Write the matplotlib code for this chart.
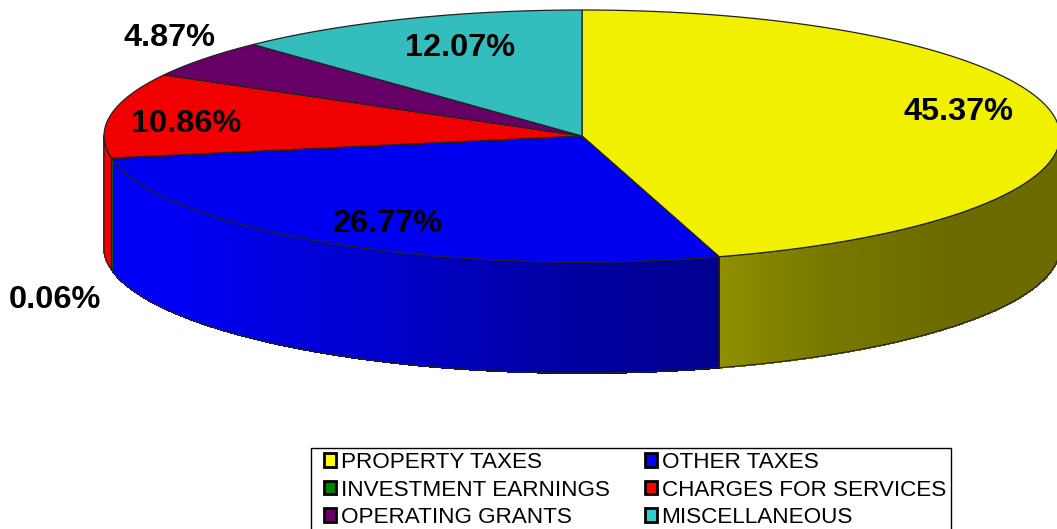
import numpy as np
import matplotlib
matplotlib.use('Agg')
import matplotlib.pyplot as plt
from matplotlib.collections import PolyCollection
from matplotlib.patches import Polygon, Patch, Rectangle

categories = ['PROPERTY TAXES', 'OTHER TAXES', 'INVESTMENT EARNINGS',
              'CHARGES FOR SERVICES', 'OPERATING GRANTS', 'MISCELLANEOUS']
values = [45.37, 26.77, 0.06, 10.86, 4.87, 12.07]
labels = ['45.37%', '26.77%', '0.06%', '10.86%', '4.87%', '12.07%']
top_colors = ['#F0F000', '#0000F0', '#006600', '#F00000', '#660066', '#33BDBD']
legend_colors = ['#FFFF00', '#0000FF', '#008000', '#FF0000', '#660066', '#33CCCC']
label_pos = [(959, 112), (388, 224), (55, 300), (186, 124), (170, 38), (460, 48)]

# pie geometry in pixels
cx, cy = 582, 136
rx, ry = 478, 126
depth = 111

plt.rcParams['font.family'] = ['Liberation Sans', 'DejaVu Sans']
fig = plt.figure(figsize=(10.57, 5.29), dpi=100)
ax = fig.add_axes([0, 0, 1, 1])
ax.set_xlim(0, 1057)
ax.set_ylim(529, 0)
ax.axis('off')


def ell(t, dy=0):
    # t is degrees clockwise from the top of the ellipse
    r = np.radians(t)
    return cx + rx * np.sin(r), cy - ry * np.cos(r) + dy


def shade(t):
    return np.interp(t, [90, 130, 150, 163, 180, 205, 235, 270],
                     [0.42, 0.42, 0.47, 0.56, 0.62, 0.8, 0.95, 0.97])


edges = np.cumsum([0] + values) * 3.6

# sides first, only the front half can be seen
for i in range(len(values)):
    a, b = max(edges[i], 90), min(edges[i + 1], 270)
    if b <= a:
        continue
    ts = np.linspace(a, b, max(2, int(b - a) * 2 + 1))
    quads, cols = [], []
    base = np.array(matplotlib.colors.to_rgb(legend_colors[i]))
    for t0, t1 in zip(ts[:-1], ts[1:]):
        x0, y0 = ell(t0)
        x1, y1 = ell(t1)
        quads.append([(x0, y0), (x1, y1), (x1, y1 + depth), (x0, y0 + depth)])
        cols.append(tuple(base * shade((t0 + t1) / 2)))
    ax.add_collection(PolyCollection(quads, facecolors=cols, edgecolors=cols, linewidths=0.8,
                                     antialiaseds=False, zorder=2))
    # outline of this side
    xs, ys = ell(ts)
    outline = list(zip(xs, ys)) + list(zip(xs[::-1], ys[::-1] + depth))
    ax.add_patch(Polygon(outline, closed=True, fill=False, edgecolor='#222222', lw=0.8, zorder=3))

# top slices
for i in range(len(values)):
    ts = np.linspace(edges[i], edges[i + 1], max(2, int(values[i] * 7)))
    xs, ys = ell(ts)
    pts = [(cx, cy)] + list(zip(xs, ys))
    ax.add_patch(Polygon(pts, closed=True, facecolor=top_colors[i], edgecolor='#222222', lw=0.9, zorder=4))

for lab, (x, y) in zip(labels, label_pos):
    ax.text(x, y, lab, ha='center', va='center', fontsize=23.4, fontweight='bold', color='black', zorder=5)

# frame runs off the bottom of the picture like the original
ax.add_patch(Rectangle((311, 448), 640, 90, facecolor='white', edgecolor='black', lw=1, zorder=1))

handles = [Patch(facecolor=c, edgecolor='black', linewidth=2, label=n)
           for c, n in zip(legend_colors, categories)]
# matplotlib fills column by column
order = [0, 2, 4, 1, 3, 5]
leg = ax.legend([handles[i] for i in order], [categories[i] for i in order], ncol=2,
                loc='upper left', bbox_to_anchor=(324, 452), bbox_transform=ax.transData,
                borderaxespad=0, borderpad=0, fontsize=16.2, frameon=False,
                handlelength=0.55, handleheight=0.55, handletextpad=0.2,
                labelspacing=0.29, columnspacing=1.55)

fig.savefig('out.png', dpi=100)
